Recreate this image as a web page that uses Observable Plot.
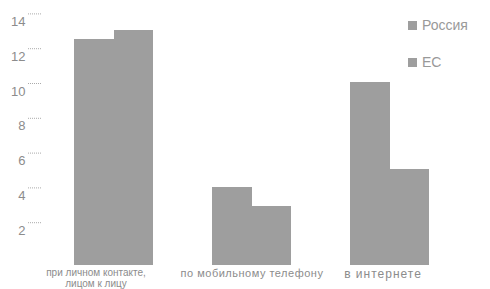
<!DOCTYPE html>
<html>
<head>
<meta charset="utf-8">
<script src="https://cdn.jsdelivr.net/npm/d3@7"></script>
<script src="https://cdn.jsdelivr.net/npm/@observablehq/plot@0.6"></script>
<style>
  html, body { margin: 0; padding: 0; background: #fff; }
  #wrap { position: relative; width: 490px; height: 289px; font-family: "Liberation Sans", Arial, sans-serif; }
  #legend { position: absolute; left: 408px; top: 17px; color: #999; font-size: 14px; }
  .row { display: flex; align-items: center; height: 16px; margin-bottom: 21px; }
  .sw { width: 9px; height: 9px; background: #9e9e9e; margin-right: 5px; }
</style>
</head>
<body>
<div id="wrap"></div>
<script>
const categories = ["при личном контакте,\nлицом к лицу", "по мобильному телефону", "в интернете"];
const series = ["Россия", "ЕС"];
const russia = [13.0, 4.5, 10.5];
const eu = [13.5, 3.4, 5.5];
const yTicks = [2, 4, 6, 8, 10, 12, 14];

const dataRu = categories.map((c, i) => ({category: c, series: series[0], value: russia[i]}));
const dataEu = categories.map((c, i) => ({category: c, series: series[1], value: eu[i]}));

const fill = "#9e9e9e";
const textColor = "#8c8c8c";

const chart = Plot.plot({
  width: 490,
  height: 289,
  marginLeft: 41,
  marginRight: 28,
  marginTop: 4,
  marginBottom: 24,
  style: {fontFamily: "Liberation Sans, Arial, sans-serif", background: "#fff"},
  x: {domain: categories, paddingInner: 0.43, paddingOuter: 0.23, label: null},
  y: {domain: [0, 15], label: null},
  marks: [
    Plot.barY(dataRu, {x: "category", y: "value", fill, insetRight: 39.2, shapeRendering: "crispEdges"}),
    Plot.barY(dataEu, {x: "category", y: "value", fill, insetLeft: 39.6, shapeRendering: "crispEdges"}),
    Plot.axisY(yTicks, {tickSize: 0, tickPadding: 16, fontSize: 13, fill: textColor, label: null}),
    Plot.axisY(yTicks, {tickSize: 14, text: null, dy: -8, stroke: "#aaa", strokeDasharray: "1,1", label: null}),
    Plot.axisX([categories[0]], {tickSize: 0, tickPadding: 3, fontSize: 10, lineHeight: 1.1, dx: -18, fill: textColor, label: null}),
    Plot.axisX([categories[1]], {tickSize: 0, tickPadding: 3, fontSize: 11, lineHeight: 1.1, dx: 0, fill: textColor, label: null}),
    Plot.axisX([categories[2]], {tickSize: 0, tickPadding: 3, fontSize: 12, lineHeight: 1.1, dx: -7, fill: textColor, label: null})
  ]
});

const xLabelGroups = d3.select(chart).selectAll("g[aria-label='x-axis tick label']").nodes();
const spacing = ["0px", "0.5px", "1px"];
xLabelGroups.forEach((g, i) => { g.style.letterSpacing = spacing[i] || "0px"; });

const wrap = document.getElementById("wrap");
wrap.appendChild(chart);
const legend = document.createElement("div");
legend.id = "legend";
series.forEach(s => {
  const row = document.createElement("div");
  row.className = "row";
  const sw = document.createElement("div");
  sw.className = "sw";
  const t = document.createElement("span");
  t.textContent = s;
  row.appendChild(sw);
  row.appendChild(t);
  legend.appendChild(row);
});
wrap.appendChild(legend);
</script>
</body>
</html>
